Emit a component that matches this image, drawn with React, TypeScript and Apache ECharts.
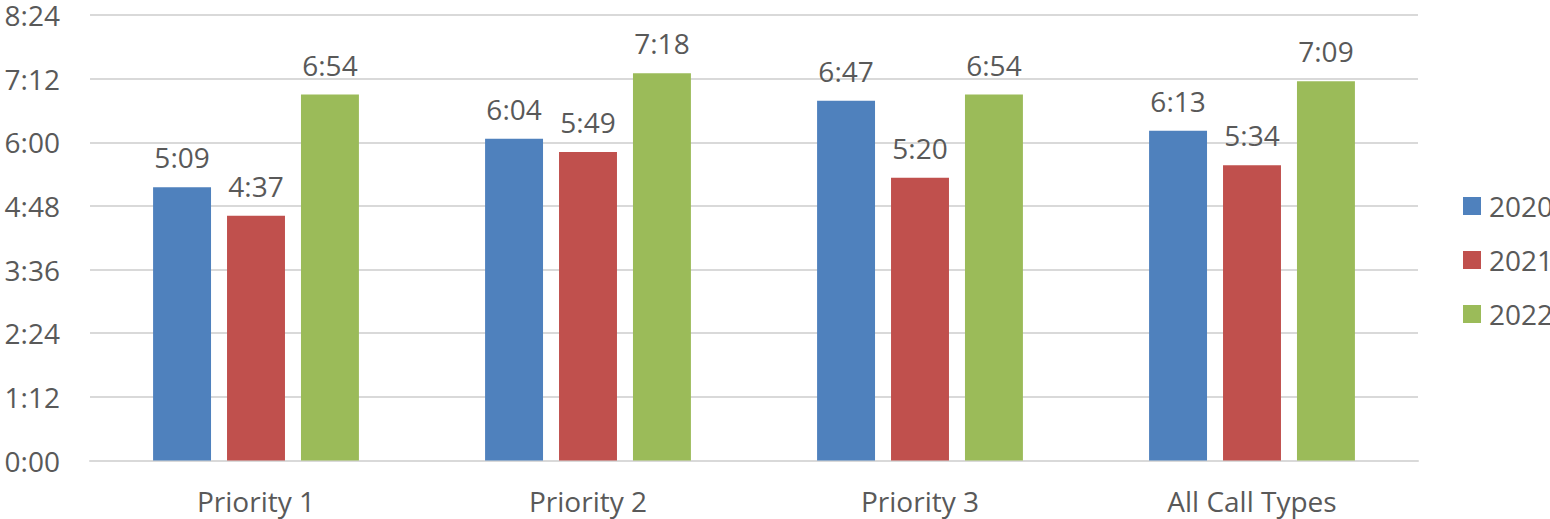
import React, { useEffect, useRef } from "react";
import * as echarts from "echarts";

const categories = ["Priority 1", "Priority 2", "Priority 3", "All Call Types"];
const seriesNames = ["2020", "2021", "2022"];
// values in seconds (m:ss)
const values2020 = [309, 364, 407, 373]; // 5:09, 6:04, 6:47, 6:13
const values2021 = [277, 349, 320, 334]; // 4:37, 5:49, 5:20, 5:34
const values2022 = [414, 438, 414, 429]; // 6:54, 7:18, 6:54, 7:09
const colors = ["#4f81bd", "#c0504d", "#9bbb59"];
const yMax = 504; // 8:24
const yInterval = 72; // 1:12

const fmt = (s: number) => {
  const m = Math.floor(s / 60);
  const sec = Math.round(s - m * 60);
  return `${m}:${sec < 10 ? "0" + sec : sec}`;
};

const FONT = "Open Sans";
const TXT = "#595959";

export default function App() {
  const ref = useRef<HTMLDivElement>(null);
  useEffect(() => {
    if (!ref.current) return;
    const chart = echarts.init(ref.current, undefined, { renderer: "svg" });
    const allValues = [values2020, values2021, values2022];
    chart.setOption({
      animation: false,
      backgroundColor: "#ffffff",
      textStyle: { fontFamily: FONT },
      grid: { left: 90, right: 132, top: 15, bottom: 58.5 },
      legend: {
        orient: "vertical",
        left: 1463,
        top: 192,
        padding: 0,
        itemWidth: 18,
        itemHeight: 18,
        itemGap: 26,
        icon: "rect",
        textStyle: { fontSize: 28, color: TXT, fontFamily: FONT, padding: [0, 0, 0, 3] },
        data: seriesNames,
      },
      xAxis: {
        type: "category",
        data: categories,
        axisLine: { show: true, lineStyle: { color: "#d9d9d9", width: 2 } },
        axisTick: { show: false },
        axisLabel: { fontSize: 28, color: TXT, fontFamily: FONT, margin: 26 },
      },
      yAxis: {
        type: "value",
        min: 0,
        max: yMax,
        interval: yInterval,
        axisLine: { show: false },
        axisTick: { show: false },
        splitLine: { lineStyle: { color: "#d9d9d9", width: 2 } },
        axisLabel: {
          fontSize: 28,
          color: TXT,
          fontFamily: FONT,
          margin: 30,
          formatter: (v: number) => fmt(v),
        },
      },
      series: seriesNames.map((name, i) => ({
        name,
        type: "bar",
        data: allValues[i],
        barGap: "27.6%",
        barCategoryGap: "38%",
        itemStyle: { color: colors[i] },
        label: {
          show: true,
          position: "top",
          distance: 16,
          fontSize: 28,
          color: TXT,
          fontFamily: FONT,
          formatter: (p: any) => fmt(p.value),
        },
      })),
    });
    return () => chart.dispose();
  }, []);
  return (
    <div
      ref={ref}
      style={{ position: "fixed", left: 0, top: 0, width: 1550, height: 519 }}
    />
  );
}
